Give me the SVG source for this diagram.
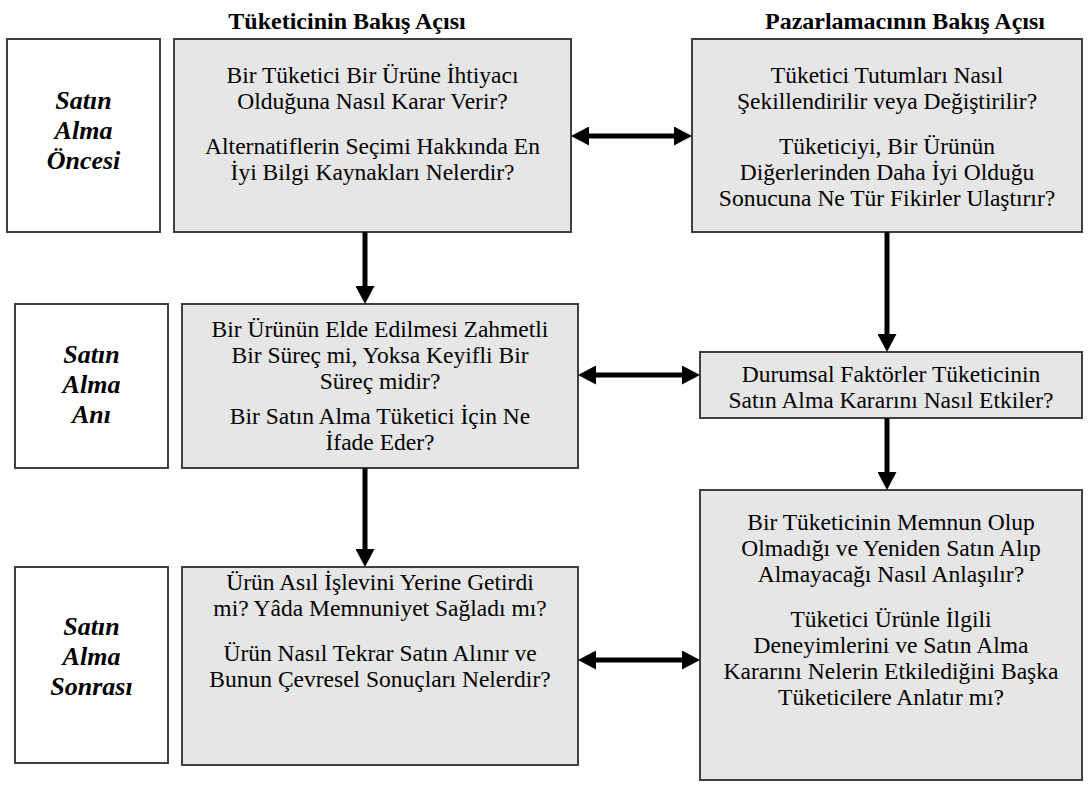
<svg xmlns="http://www.w3.org/2000/svg" width="1088" height="785" viewBox="0 0 1088 785">
<defs>
<style>
.lab{fill:#ffffff;stroke:#404040;stroke-width:2}
.box{fill:#e6e6e6;stroke:#404040;stroke-width:2}
.hd{font-weight:bold;font-size:24px;text-anchor:middle;fill:#000}
.lt{font-weight:bold;font-style:italic;font-size:26px;text-anchor:middle;fill:#000}
.bt{font-size:23.5px;text-anchor:middle;fill:#000}
.con{stroke:#000;stroke-width:5;fill:none}
</style>
<marker id="ah" markerWidth="18" markerHeight="19" refX="8" refY="9.5" orient="auto-start-reverse" markerUnits="userSpaceOnUse">
<path d="M0,0 L18,9.5 L0,19 Z" fill="#000"/>
</marker>
</defs>
<rect x="0" y="0" width="1088" height="785" fill="#ffffff"/>

<g font-family="'Liberation Serif', 'Times New Roman', Times, serif">
<g id="headers">
<text class="hd" x="347" y="29">Tüketicinin Bakış Açısı</text>
<text class="hd" x="905" y="29">Pazarlamacının Bakış Açısı</text>
</g>

<g id="label-oncesi">
<rect class="lab" x="7" y="39" width="153" height="193"/>
<text class="lt" x="83.5" y="109">Satın</text>
<text class="lt" x="83.5" y="139">Alma</text>
<text class="lt" x="83.5" y="169">Öncesi</text>
</g>

<g id="tuketici-oncesi">
<rect class="box" x="174" y="39" width="397" height="193"/>
<text class="bt" x="372.5" y="83">Bir Tüketici Bir Ürüne İhtiyacı</text>
<text class="bt" x="372.5" y="109">Olduğuna Nasıl Karar Verir?</text>
<text class="bt" x="372.5" y="154">Alternatiflerin Seçimi Hakkında En</text>
<text class="bt" x="372.5" y="180">İyi Bilgi Kaynakları Nelerdir?</text>
</g>

<g id="pazarlamaci-oncesi">
<rect class="box" x="692" y="39" width="390" height="193"/>
<text class="bt" x="887" y="83">Tüketici Tutumları Nasıl</text>
<text class="bt" x="887" y="109">Şekillendirilir veya Değiştirilir?</text>
<text class="bt" x="887" y="154">Tüketiciyi, Bir Ürünün</text>
<text class="bt" x="887" y="180">Diğerlerinden Daha İyi Olduğu</text>
<text class="bt" x="887" y="206">Sonucuna Ne Tür Fikirler Ulaştırır?</text>
</g>

<g id="label-ani">
<rect class="lab" x="15" y="304" width="153" height="164"/>
<text class="lt" x="91.5" y="363">Satın</text>
<text class="lt" x="91.5" y="393">Alma</text>
<text class="lt" x="91.5" y="423">Anı</text>
</g>

<g id="tuketici-ani">
<rect class="box" x="182" y="304" width="396" height="164"/>
<text class="bt" x="380" y="337">Bir Ürünün Elde Edilmesi Zahmetli</text>
<text class="bt" x="380" y="363">Bir Süreç mi, Yoksa Keyifli Bir</text>
<text class="bt" x="380" y="389">Süreç midir?</text>
<text class="bt" x="380" y="424">Bir Satın Alma Tüketici İçin Ne</text>
<text class="bt" x="380" y="450">İfade Eder?</text>
</g>

<g id="pazarlamaci-ani">
<rect class="box" x="700" y="352" width="382" height="66"/>
<text class="bt" x="891" y="382">Durumsal Faktörler Tüketicinin</text>
<text class="bt" x="891" y="408">Satın Alma Kararını Nasıl Etkiler?</text>
</g>

<g id="label-sonrasi">
<rect class="lab" x="15" y="567" width="153" height="196"/>
<text class="lt" x="91.5" y="635">Satın</text>
<text class="lt" x="91.5" y="665">Alma</text>
<text class="lt" x="91.5" y="695">Sonrası</text>
</g>

<g id="tuketici-sonrasi">
<rect class="box" x="182" y="567" width="396" height="198"/>
<text class="bt" x="380" y="590">Ürün Asıl İşlevini Yerine Getirdi</text>
<text class="bt" x="380" y="616">mi? Yâda Memnuniyet Sağladı mı?</text>
<text class="bt" x="380" y="661">Ürün Nasıl Tekrar Satın Alınır ve</text>
<text class="bt" x="380" y="687">Bunun Çevresel Sonuçları Nelerdir?</text>
</g>

<g id="pazarlamaci-sonrasi">
<rect class="box" x="700" y="490" width="382" height="290"/>
<text class="bt" x="891" y="530">Bir Tüketicinin Memnun Olup</text>
<text class="bt" x="891" y="556">Olmadığı ve Yeniden Satın Alıp</text>
<text class="bt" x="891" y="582">Almayacağı Nasıl Anlaşılır?</text>
<text class="bt" x="891" y="627">Tüketici Ürünle İlgili</text>
<text class="bt" x="891" y="653">Deneyimlerini ve Satın Alma</text>
<text class="bt" x="891" y="679">Kararını Nelerin Etkilediğini Başka</text>
<text class="bt" x="891" y="705">Tüketicilere Anlatır mı?</text>
</g>
</g>

<g id="connectors">
<line class="con" x1="581" y1="136" x2="682" y2="136" marker-start="url(#ah)" marker-end="url(#ah)"/>
<line class="con" x1="588" y1="375" x2="690" y2="375" marker-start="url(#ah)" marker-end="url(#ah)"/>
<line class="con" x1="588" y1="660" x2="690" y2="660" marker-start="url(#ah)" marker-end="url(#ah)"/>
<line class="con" x1="365" y1="232" x2="365" y2="294" marker-end="url(#ah)"/>
<line class="con" x1="365" y1="468" x2="365" y2="557" marker-end="url(#ah)"/>
<line class="con" x1="887" y1="232" x2="887" y2="342" marker-end="url(#ah)"/>
<line class="con" x1="887" y1="418" x2="887" y2="480" marker-end="url(#ah)"/>
</g>
</svg>
